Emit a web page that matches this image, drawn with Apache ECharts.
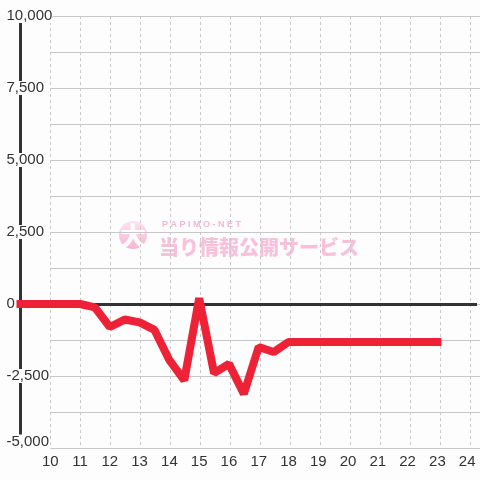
<!DOCTYPE html>
<html>
<head>
<meta charset="utf-8">
<script src="https://cdn.jsdelivr.net/npm/echarts@6/dist/echarts.min.js"></script>
<style>
  html, body { margin: 0; padding: 0; background: #fcfdfc; }
  #chart { width: 480px; height: 480px; }
</style>
</head>
<body>
<div id="chart"></div>
<script>
// 時刻 (hour) と差枚
var hours = [9, 9.5, 10, 10.5, 11, 11.5, 12, 12.5, 13, 13.5, 14, 14.5, 15, 15.5, 16, 16.5, 17, 17.5,
  18, 18.5, 19, 19.5, 20, 20.5, 21, 21.5, 22, 22.5, 23];
var values = [0, 0, 0, 0, 0, -120, -800, -540, -640, -900, -1950, -2650, 200, -2400, -2080, -3120, -1490, -1670,
  -1320, -1320, -1320, -1320, -1320, -1320, -1320, -1320, -1320, -1320, -1320];

var yMin = -5000, yMax = 10000, yStep = 1250, yLabelStep = 2500;
var xMin = 9, xMax = 24.33;

var chart = echarts.init(document.getElementById('chart'));

var font = 'Liberation Sans, Arial, sans-serif';

chart.setOption({
  backgroundColor: '#fcfdfc',
  animation: false,
  grid: [
    { left: 20.5, right: -0.4, top: 16, bottom: 32 },
    { left: 50.5, right: -0.4, top: 16, bottom: 32 }
  ],
  xAxis: [
    {
      // 時刻ラベルのみ
      type: 'value',
      gridIndex: 0,
      min: xMin,
      max: xMax,
      interval: 1,
      z: 8,
      axisLine: { show: false },
      axisTick: { show: false },
      splitLine: { show: false },
      axisLabel: {
        color: '#333',
        fontSize: 15,
        fontFamily: font,
        margin: 6,
        formatter: function (v) { return (v >= 10 && v % 1 === 0) ? String(v) : ''; }
      }
    },
    {
      // 縦の点線
      type: 'value',
      gridIndex: 1,
      min: 10,
      max: xMax,
      interval: 1,
      z: 0,
      axisLine: { show: false },
      axisTick: { show: false },
      axisLabel: { show: false },
      splitLine: { show: true, lineStyle: { color: '#c8c8c8', type: [3, 3], width: 1 } }
    }
  ],
  yAxis: [
    {
      type: 'value',
      gridIndex: 0,
      min: yMin,
      max: yMax,
      interval: yStep,
      z: 5,
      axisLine: { show: true, lineStyle: { color: '#333', width: 3 } },
      axisTick: { show: false },
      splitLine: { show: false },
      axisLabel: {
        color: '#333',
        fontSize: 15,
        fontFamily: font,
        align: 'left',
        margin: 14,
        lineHeight: 14,
        backgroundColor: '#fcfdfc',
        formatter: function (v) {
          if (v % yLabelStep !== 0) return '';
          var s = Math.abs(v).toLocaleString('en-US');
          if (v < 0) s = '-' + s;
          return v === yMin ? '{low|' + s + '}' : s;
        },
        rich: {
          low: { fontSize: 15, fontFamily: font, color: '#333', lineHeight: 14, padding: [0, 0, 12, 0], backgroundColor: '#fcfdfc' }
        }
      }
    },
    {
      type: 'value',
      gridIndex: 1,
      min: yMin,
      max: yMax,
      interval: yStep,
      z: 0,
      axisLine: { show: false },
      axisTick: { show: false },
      axisLabel: { show: false },
      splitLine: { show: true, lineStyle: { color: '#c8c8c8', width: 1 } }
    }
  ],
  graphic: [
    {
      type: 'group',
      left: 119,
      top: 220,
      z: 1,
      silent: true,
      children: [
        {
          type: 'circle',
          shape: { cx: 14, cy: 17, r: 14 },
          style: {
            fill: new echarts.graphic.LinearGradient(0, 0, 0, 1, [
              { offset: 0, color: '#fde3ef' },
              { offset: 1, color: '#f7b4d4' }
            ])
          }
        },
        {
          type: 'text',
          x: 14, y: 18,
          style: {
            text: '大', fill: '#fcfdfc', font: '900 26px "Noto Sans CJK JP"',
            align: 'center', verticalAlign: 'middle'
          }
        },
        {
          type: 'text',
          x: 43, y: 2,
          style: {
            text: 'P A P I M O - N E T', fill: '#f6b6d3', font: 'bold 9px ' + font
          }
        },
        {
          type: 'text',
          x: 40, y: 29,
          style: {
            text: '当り情報公開サービス', fill: '#f9c0db', font: '900 20px "Noto Sans CJK JP"',
            verticalAlign: 'middle'
          }
        }
      ]
    }
  ],
  series: [
    {
      type: 'line',
      xAxisIndex: 0,
      yAxisIndex: 0,
      data: [],
      z: 2,
      markLine: {
        silent: true,
        symbol: 'none',
        label: { show: false },
        lineStyle: { color: '#333', width: 3, type: 'solid' },
        data: [{ yAxis: 0 }]
      }
    },
    {
      type: 'line',
      xAxisIndex: 0,
      yAxisIndex: 0,
      z: 10,
      showSymbol: false,
      clip: false,
      data: hours.map(function (h, i) { return [h, values[i]]; }),
      lineStyle: { color: '#ed2236', width: 8, cap: 'square', join: 'bevel' }
    }
  ]
});
</script>
</body>
</html>
